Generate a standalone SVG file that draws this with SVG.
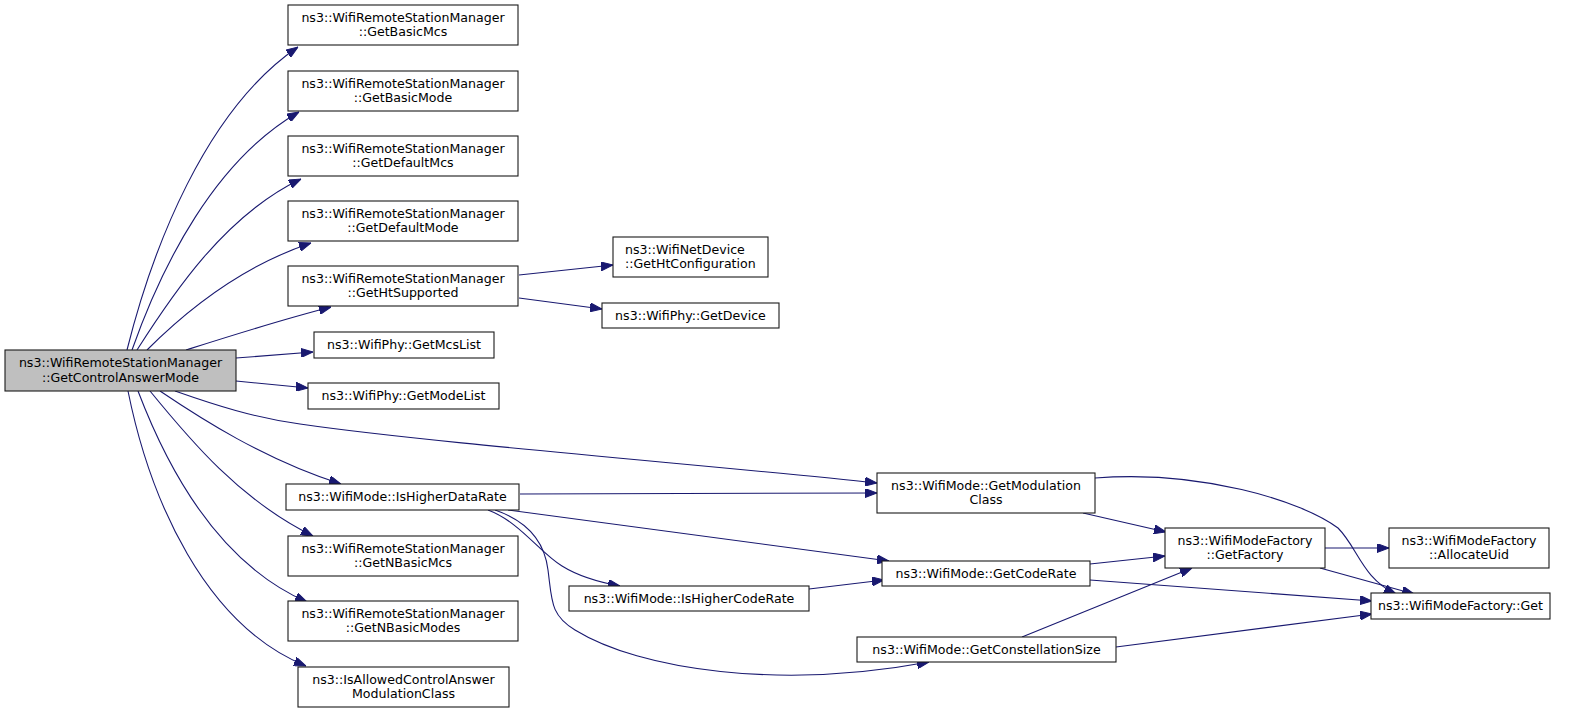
<svg xmlns="http://www.w3.org/2000/svg" width="1571" height="712" viewBox="0 0 1571 712">
<style>
.n rect{fill:#fff;stroke:#1a1a1a;stroke-width:1.1}
.root rect{fill:#bfbfbf}
text{font-family:"DejaVu Sans","Liberation Sans",sans-serif;font-size:12.6px;text-anchor:middle;fill:#000}
text.l{text-anchor:start}
.e path{fill:none;stroke:#191970;stroke-width:1.1;marker-end:url(#ah)}
</style>
<defs>
<marker id="ah" markerUnits="userSpaceOnUse" markerWidth="12" markerHeight="9" refX="12" refY="4.5" orient="auto">
<path d="M0,0 L12,4.5 L0,9 z" fill="#191970" stroke="#191970" stroke-width="1"/>
</marker>
</defs>
<rect width="1571" height="712" fill="#fff"/>
<g id="edges" class="e">
<path d="M127,350 C152,250 205,110 298,47"/>
<path d="M132,350 C162,265 215,160 299,112"/>
<path d="M137,350 C172,295 225,215 301,179"/>
<path d="M147,350 C192,305 245,265 311,243"/>
<path d="M186,350 C230,336 280,320 331,307"/>
<path d="M236,358 L313,352"/>
<path d="M236,381 L308,388"/>
<path d="M175,391 C215,405 255,418 300,424 C430,443 720,466 877,483"/>
<path d="M160,391 C200,418 265,460 341,484"/>
<path d="M150,391 C190,440 240,500 313,536"/>
<path d="M138,391 C170,475 222,565 307,602"/>
<path d="M128,391 C150,500 205,625 306,666"/>
<path d="M519,275 L613,265"/>
<path d="M519,298 L602,309"/>
<path d="M520,494 L877,493"/>
<path d="M508,510 L889,561"/>
<path d="M488,510 C520,522 540,553 562,566 C578,576 598,582 620,586"/>
<path d="M495,510 C530,522 545,545 548,570 C552,600 550,615 575,630 C640,670 780,690 929,662"/>
<path d="M809,589 L884,580"/>
<path d="M1083,513 L1166,532"/>
<path d="M1095,478 C1200,470 1300,500 1338,528 C1358,548 1362,578 1396,594"/>
<path d="M1090,564 L1165,556"/>
<path d="M1090,580 L1372,601"/>
<path d="M1022,637 L1192,568"/>
<path d="M1116,647 L1372,614"/>
<path d="M1325,548 L1389,548"/>
<path d="M1320,568 L1414,594"/>
</g>
<g id="root" class="n root"><rect x="5" y="350" width="231" height="41"/><text x="120.5" y="367">ns3::WifiRemoteStationManager</text><text x="120.5" y="381.5">::GetControlAnswerMode</text></g>
<g id="getBasicMcs" class="n"><rect x="288" y="5" width="230" height="40"/><text x="403" y="21.5">ns3::WifiRemoteStationManager</text><text x="403" y="36">::GetBasicMcs</text></g>
<g id="getBasicMode" class="n"><rect x="288" y="71" width="230" height="40"/><text x="403" y="87.5">ns3::WifiRemoteStationManager</text><text x="403" y="102">::GetBasicMode</text></g>
<g id="getDefaultMcs" class="n"><rect x="288" y="136" width="230" height="40"/><text x="403" y="152.5">ns3::WifiRemoteStationManager</text><text x="403" y="167">::GetDefaultMcs</text></g>
<g id="getDefaultMode" class="n"><rect x="288" y="201" width="230" height="40"/><text x="403" y="217.5">ns3::WifiRemoteStationManager</text><text x="403" y="232">::GetDefaultMode</text></g>
<g id="getHtSupported" class="n"><rect x="288" y="266" width="230" height="40"/><text x="403" y="282.5">ns3::WifiRemoteStationManager</text><text x="403" y="297">::GetHtSupported</text></g>
<g id="getMcsList" class="n"><rect x="314" y="332" width="180" height="26"/><text x="404" y="349">ns3::WifiPhy::GetMcsList</text></g>
<g id="getModeList" class="n"><rect x="308" y="383" width="191" height="26"/><text x="403.5" y="400">ns3::WifiPhy::GetModeList</text></g>
<g id="isHigherDataRate" class="n"><rect x="286" y="484" width="233" height="26"/><text x="402.5" y="501">ns3::WifiMode::IsHigherDataRate</text></g>
<g id="getNBasicMcs" class="n"><rect x="288" y="536" width="230" height="40"/><text x="403" y="552.5">ns3::WifiRemoteStationManager</text><text x="403" y="567">::GetNBasicMcs</text></g>
<g id="getNBasicModes" class="n"><rect x="288" y="601" width="230" height="40"/><text x="403" y="617.5">ns3::WifiRemoteStationManager</text><text x="403" y="632">::GetNBasicModes</text></g>
<g id="isAllowed" class="n"><rect x="298" y="667" width="211" height="40"/><text x="403.5" y="683.5">ns3::IsAllowedControlAnswer</text><text x="403.5" y="698">ModulationClass</text></g>
<g id="getHtConfiguration" class="n"><rect x="613" y="237" width="155" height="40"/><text class="l" x="625" y="253.5">ns3::WifiNetDevice</text><text class="l" x="625" y="268">::GetHtConfiguration</text></g>
<g id="getDevice" class="n"><rect x="602" y="303" width="177" height="25"/><text x="690.5" y="320">ns3::WifiPhy::GetDevice</text></g>
<g id="getModulationClass" class="n"><rect x="877" y="473" width="218" height="40"/><text x="986" y="489.5">ns3::WifiMode::GetModulation</text><text x="986" y="504">Class</text></g>
<g id="getCodeRate" class="n"><rect x="882" y="561" width="208" height="25"/><text x="986" y="578">ns3::WifiMode::GetCodeRate</text></g>
<g id="isHigherCodeRate" class="n"><rect x="569" y="586" width="240" height="25"/><text x="689" y="603">ns3::WifiMode::IsHigherCodeRate</text></g>
<g id="getConstellationSize" class="n"><rect x="857" y="637" width="259" height="25"/><text x="986.5" y="654">ns3::WifiMode::GetConstellationSize</text></g>
<g id="getFactory" class="n"><rect x="1165" y="528" width="160" height="40"/><text x="1245" y="544.5">ns3::WifiModeFactory</text><text x="1245" y="559">::GetFactory</text></g>
<g id="allocateUid" class="n"><rect x="1389" y="528" width="160" height="40"/><text x="1469" y="544.5">ns3::WifiModeFactory</text><text x="1469" y="559">::AllocateUid</text></g>
<g id="get" class="n"><rect x="1371" y="593" width="179" height="26"/><text x="1460.5" y="610">ns3::WifiModeFactory::Get</text></g>
</svg>
